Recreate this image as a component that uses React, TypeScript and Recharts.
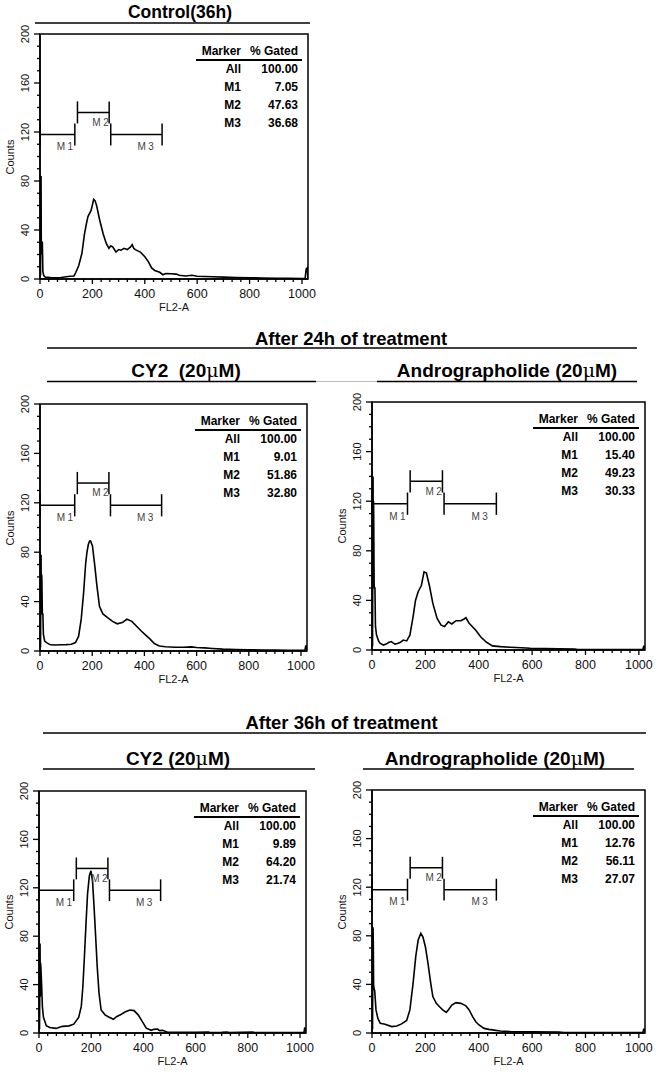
import React from 'react';
import { ComposedChart, Line, XAxis, YAxis, ReferenceLine, ReferenceArea, ReferenceDot } from 'recharts';

// ---------- data ----------
const xMajorTicks = [0, 200, 400, 600, 800, 1000];
const yMajorTicks = [0, 40, 80, 120, 160, 200];
const markerNames = ['All', 'M1', 'M2', 'M3'];

const controlGated = ['100.00', '7.05', '47.63', '36.68'];
const cy2_24Gated = ['100.00', '9.01', '51.86', '32.80'];
const andro24Gated = ['100.00', '15.40', '49.23', '30.33'];
const cy2_36Gated = ['100.00', '9.89', '64.20', '21.74'];
const andro36Gated = ['100.00', '12.76', '56.11', '27.07'];

// gates: [start, end, level]
const gateM1 = [0, 133, 118];
const gateM2 = [143, 264, 136];
const gateM3 = [270, 466, 118];

const controlCurve = [
  [0, 85], [2, 3], [4, 84], [5, 20], [6, 30], [9, 30], [11, 6], [14, 3], [20, 1.5], [40, 1.2], [60, 1], [80, 1.2],
  [100, 1.8], [115, 2.3], [130, 2.5], [137, 5.5], [148, 11], [160, 21], [170, 37], [178, 46], [183, 51], [195, 56],
  [205, 65], [210, 64], [216, 60], [228, 48], [241, 37], [253, 29], [263, 25], [270, 27], [278, 26], [290, 22],
  [300, 24], [309, 23.5], [321, 25], [333, 24], [345, 26], [352, 28], [358, 25], [364, 24], [383, 22], [401, 18],
  [414, 14], [426, 9], [438, 7], [457, 5.5], [469, 3.5], [480, 4.5], [500, 4.3], [520, 4], [531, 3], [556, 2.5],
  [580, 3], [600, 2.3], [630, 2], [660, 1.8], [700, 1.5], [750, 1.2], [800, 1], [850, 0.8], [900, 0.6], [950, 0.5],
  [1000, 0.4], [1012, 0.5], [1016, 8], [1020, 9], [1023, 0],
];

const cy2_24Curve = [
  [0, 80], [2, 3], [4, 78], [5, 40], [6, 62], [7, 60], [9, 30], [11, 30], [13, 13.5], [18, 8], [25, 6.8], [40, 5],
  [60, 4.8], [80, 5], [100, 5.2], [120, 5.5], [136, 6.8], [148, 12], [158, 26], [167, 47], [175, 71], [180, 80],
  [185, 86], [190, 89], [194, 89], [201, 85], [210, 69], [218, 53], [228, 36], [241, 30], [259, 27], [278, 24],
  [296, 22], [315, 23], [333, 25.7], [352, 24], [370, 20], [389, 16], [407, 12.5], [420, 10], [438, 6], [457, 4],
  [481, 3.5], [518, 3], [550, 3], [580, 3.3], [600, 2.8], [630, 2.5], [660, 2], [700, 1.5], [750, 1.2], [800, 1],
  [850, 0.8], [900, 0.8], [950, 0.6], [1000, 0.5], [1015, 0.5], [1018, 4], [1021, 4], [1023, 0],
];

const andro24Curve = [
  [0, 145], [2, 3], [4, 140], [5, 60], [6, 120], [8, 52], [9, 50], [11, 50], [13, 19], [17, 12], [25, 7], [31, 5.3],
  [43, 4], [55, 5], [62, 6], [72, 6.8], [80, 5.5], [86, 4.8], [95, 5.2], [105, 6], [117, 8], [130, 7.3], [142, 12],
  [154, 27], [163, 40], [173, 47], [185, 52], [195, 63], [204, 62], [216, 51], [228, 37.6], [244, 25.5], [259, 20],
  [272, 19], [286, 22.8], [299, 21], [315, 23.6], [333, 23.6], [345, 25], [352, 26], [364, 21.5], [389, 16],
  [407, 10.7], [426, 6.8], [451, 3.3], [481, 2.7], [518, 2.2], [560, 1.8], [593, 1.4], [650, 1.1], [700, 0.9],
  [760, 0.8], [770, 0.3], [850, 0.3], [950, 0.3], [1015, 0.3], [1018, 3], [1022, 3], [1023, 0],
];

const cy2_36Curve = [
  [0, 75], [2, 3], [4, 74], [5, 30], [6, 58], [7, 55], [10, 40], [13, 22], [17, 13], [28, 6], [41, 4.5], [65, 3.8],
  [90, 5.5], [115, 5.9], [133, 7.3], [152, 12.8], [162, 22], [168, 38], [174, 63], [180, 90], [186, 115], [193, 130],
  [199, 134], [205, 126], [211, 104], [217, 80], [223, 55], [230, 33], [238, 19], [253, 15], [269, 13], [285, 11.3],
  [297, 13.5], [312, 15], [331, 17.6], [349, 19], [364, 18.5], [380, 15], [396, 9.4], [411, 4], [430, 2.2], [440, 3],
  [454, 3.3], [462, 2], [473, 2.2], [491, 0.8], [550, 0.6], [600, 0.5], [650, 0.8], [655, 0.3], [700, 0.5],
  [720, 0.8], [730, 0.3], [820, 0.8], [825, 0.3], [950, 0.3], [1015, 0.3], [1018, 4], [1022, 4], [1023, 0],
];

const andro36Curve = [
  [0, 88], [2, 3], [4, 87], [5, 70], [6, 40], [8, 36], [10, 35], [15, 19], [22, 12], [31, 8], [49, 7.2], [74, 5.3],
  [93, 5.8], [111, 7.5], [130, 10.3], [142, 19], [154, 41], [164, 63], [173, 76.5], [183, 82], [191, 79], [200, 71],
  [210, 57], [220, 41], [228, 30], [241, 24.4], [253, 21.6], [265, 19], [278, 17], [286, 19], [299, 23], [315, 25],
  [333, 24.4], [352, 22.3], [364, 19], [377, 13.4], [389, 9.3], [401, 6.6], [420, 3.8], [438, 3], [457, 2.4],
  [481, 1.7], [518, 1.1], [600, 0.9], [700, 0.8], [720, 0.3], [800, 0.4], [900, 0.3], [1015, 0.3], [1018, 3],
  [1022, 3], [1023, 0],
];

// ---------- helpers ----------
const FONT = '"Liberation Sans", Arial, Helvetica, sans-serif';

const xTicks: number[] = [];
for (let i = 0; i < xMajorTicks.length - 1; i++) {
  for (let k = 0; k < 6; k++) xTicks.push(xMajorTicks[i] + ((xMajorTicks[i + 1] - xMajorTicks[i]) * k) / 6);
}
xTicks.push(xMajorTicks[xMajorTicks.length - 1]);

const yTicks: number[] = [];
for (let i = 0; i < yMajorTicks.length - 1; i++) {
  for (let k = 0; k < 4; k++) yTicks.push(yMajorTicks[i] + ((yMajorTicks[i + 1] - yMajorTicks[i]) * k) / 4);
}
yTicks.push(yMajorTicks[yMajorTicks.length - 1]);

const XTick = (props: any) => {
  const { x, y, payload } = props;
  const v = payload.value;
  const major = xMajorTicks.some((m) => Math.abs(m - v) < 1e-6);
  return (
    <g>
      <line x1={x} x2={x} y1={y} y2={y + (major ? 5 : 3)} stroke="#000" strokeWidth={1.3} />
      {major && (
        <text x={x} y={y + 15} textAnchor="middle" dominantBaseline="central" fontSize={12.5} fontFamily={FONT} fill="#111">
          {v}
        </text>
      )}
    </g>
  );
};

const YTick = (props: any) => {
  const { x, y, payload } = props;
  const v = payload.value;
  const major = yMajorTicks.some((m) => Math.abs(m - v) < 1e-6);
  const tx = x - 15;
  return (
    <g>
      <line x1={x} x2={x - (major ? 6 : 3)} y1={y} y2={y} stroke="#000" strokeWidth={1.3} />
      {major && (
        <text
          x={tx}
          y={y}
          transform={`rotate(-90 ${tx} ${y})`}
          textAnchor="middle"
          dominantBaseline="central"
          fontSize={11}
          fontFamily={FONT}
          fill="#111"
        >
          {v}
        </text>
      )}
    </g>
  );
};

const markerLabel = (text: string) => (p: any) => (
  <text
    x={p.cx}
    y={p.cy}
    textAnchor="middle"
    dominantBaseline="central"
    fontSize={10}
    fontFamily={FONT}
    letterSpacing={2.5}
    fill="#444"
  >
    {text}
  </text>
);

type PanelProps = {
  plotLeft: number;
  plotTop: number;
  plotW: number;
  plotH: number;
  curve: number[][];
  gated: string[];
};

function Panel({ plotLeft, plotTop, plotW, plotH, curve, gated }: PanelProps) {
  const ML = 40;
  const MT = 10;
  const MR = 10;
  const MB = 40;
  const W = plotW + ML + MR;
  const H = plotH + MT + MB;
  const data = curve.map(([ch, count]) => ({ ch, count }));
  const tick = 9;
  const gates = [gateM1, gateM2, gateM3];
  const tableText: React.CSSProperties = {
    position: 'absolute',
    fontFamily: FONT,
    fontWeight: 'bold',
    fontSize: 12,
    lineHeight: '14px',
    height: 14,
    whiteSpace: 'nowrap',
    color: '#000',
    textAlign: 'right',
  };
  const rowCenters = [35, 53, 71, 89];
  return (
    <div style={{ position: 'absolute', left: plotLeft - ML, top: plotTop - MT, width: W, height: H }}>
      <ComposedChart width={W} height={H} data={data} margin={{ top: MT, right: MR, left: 0, bottom: 0 }}>
        <XAxis
          dataKey="ch"
          type="number"
          domain={[0, 1023]}
          ticks={xTicks}
          interval={0}
          tick={<XTick />}
          tickSize={0}
          tickMargin={0}
          tickLine={false}
          axisLine={{ stroke: '#000', strokeWidth: 1.5 }}
          height={MB}
          allowDataOverflow
        />
        <YAxis
          type="number"
          domain={[0, 200]}
          ticks={yTicks}
          interval={0}
          tick={<YTick />}
          tickSize={0}
          tickMargin={0}
          tickLine={false}
          axisLine={{ stroke: '#000', strokeWidth: 1.5 }}
          width={ML}
          allowDataOverflow
        />
        <ReferenceArea x1={0} x2={1023} y1={0} y2={200} fill="none" fillOpacity={0} stroke="#000" strokeWidth={1.5} />
        {gates.map((g, i) => (
          <ReferenceLine
            key={'h' + i}
            segment={[{ x: g[0], y: g[2] }, { x: g[1], y: g[2] }]}
            stroke="#000"
            strokeWidth={1.5}
          />
        ))}
        {gates.map((g, i) => (
          <ReferenceLine
            key={'a' + i}
            segment={[{ x: g[0], y: g[2] - tick }, { x: g[0], y: g[2] + tick }]}
            stroke="#000"
            strokeWidth={1.5}
          />
        ))}
        {gates.map((g, i) => (
          <ReferenceLine
            key={'b' + i}
            segment={[{ x: g[1], y: g[2] - tick }, { x: g[1], y: g[2] + tick }]}
            stroke="#000"
            strokeWidth={1.5}
          />
        ))}
        <ReferenceDot x={100} y={108} r={0} shape={markerLabel('M1')} />
        <ReferenceDot x={236} y={128} r={0} shape={markerLabel('M2')} />
        <ReferenceDot x={408} y={108} r={0} shape={markerLabel('M3')} />
        <Line
          dataKey="count"
          type="linear"
          stroke="#000"
          strokeWidth={1.6}
          dot={false}
          activeDot={false}
          isAnimationActive={false}
        />
      </ComposedChart>
      {/* marker table */}
      <div style={{ ...tableText, right: MR + 67, top: MT + 17 - 7 }}>Marker</div>
      <div style={{ ...tableText, right: MR + 10, top: MT + 17 - 7 }}>% Gated</div>
      <div
        style={{
          position: 'absolute',
          left: ML + plotW - 112,
          width: 106,
          top: MT + 25,
          height: 1.5,
          background: '#000',
        }}
      />
      {markerNames.map((m, i) => (
        <React.Fragment key={m}>
          <div style={{ ...tableText, right: MR + 67, top: MT + rowCenters[i] - 7 }}>{m}</div>
          <div style={{ ...tableText, right: MR + 10, top: MT + rowCenters[i] - 7 }}>{gated[i]}</div>
        </React.Fragment>
      ))}
      {/* axis titles */}
      <div
        style={{
          position: 'absolute',
          left: ML - 30 - 30,
          top: MT + plotH / 2 - 7,
          width: 60,
          height: 14,
          lineHeight: '14px',
          textAlign: 'center',
          fontFamily: FONT,
          fontSize: 11,
          color: '#111',
          transform: 'rotate(-90deg)',
        }}
      >
        Counts
      </div>
      <div
        style={{
          position: 'absolute',
          left: ML + plotW / 2 - 40,
          top: MT + plotH + 28 - 7,
          width: 80,
          height: 14,
          lineHeight: '14px',
          textAlign: 'center',
          fontFamily: FONT,
          fontSize: 11,
          color: '#111',
        }}
      >
        FL2-A
      </div>
    </div>
  );
}

const Title = ({ x, y, size, children }: any) => (
  <text x={x} y={y} textAnchor="middle" fontFamily={FONT} fontWeight="bold" fontSize={size} fill="#000">
    {children}
  </text>
);

const Mu = () => (
  <tspan fontWeight="normal" fontFamily='"DejaVu Serif", "Liberation Serif", serif'>
    μ
  </tspan>
);

export default function App() {
  return (
    <div style={{ position: 'absolute', left: 0, top: 0, width: 664, height: 1074, background: '#fff', overflow: 'hidden' }}>
      <Panel plotLeft={40} plotTop={34} plotW={268} plotH={245} curve={controlCurve} gated={controlGated} />
      <Panel plotLeft={40} plotTop={404} plotW={267} plotH={247} curve={cy2_24Curve} gated={cy2_24Gated} />
      <Panel plotLeft={372} plotTop={402} plotW={273} plotH={248} curve={andro24Curve} gated={andro24Gated} />
      <Panel plotLeft={39} plotTop={791} plotW={267} plotH={242} curve={cy2_36Curve} gated={cy2_36Gated} />
      <Panel plotLeft={372} plotTop={790} plotW={273} plotH={243} curve={andro36Curve} gated={andro36Gated} />
      <svg width={664} height={1074} style={{ position: 'absolute', left: 0, top: 0, pointerEvents: 'none' }}>
        <Title x={180} y={18} size={17.5}>Control(36h)</Title>
        <line x1={35} x2={310} y1={23} y2={23} stroke="#000" strokeWidth={1.5} />

        <Title x={351} y={345} size={18.5}>After 24h of treatment</Title>
        <line x1={47} x2={637} y1={348} y2={348} stroke="#000" strokeWidth={1.5} />
        <Title x={186} y={377} size={19}>
          CY2{'\u00a0\u00a0'}(20<Mu />M)
        </Title>
        <line x1={47} x2={316} y1={381.5} y2={381.5} stroke="#000" strokeWidth={1.5} />
        <line x1={316} x2={377} y1={381.5} y2={381.5} stroke="#bbb" strokeWidth={1} />
        <Title x={507} y={377} size={19}>
          Andrographolide{'\u00a0'}(20<Mu />M)
        </Title>
        <line x1={377} x2={637} y1={381.5} y2={381.5} stroke="#000" strokeWidth={1.5} />

        <Title x={341.5} y={729} size={18.5}>After 36h of treatment</Title>
        <line x1={43} x2={646} y1={733} y2={733} stroke="#000" strokeWidth={1.5} />
        <Title x={178} y={765} size={19}>
          CY2 (20<Mu />M)
        </Title>
        <line x1={43} x2={315} y1={769} y2={769} stroke="#000" strokeWidth={1.5} />
        <Title x={495} y={765} size={19}>
          Andrographolide (20<Mu />M)
        </Title>
        <line x1={363} x2={634} y1={769} y2={769} stroke="#000" strokeWidth={1.5} />
      </svg>
    </div>
  );
}
